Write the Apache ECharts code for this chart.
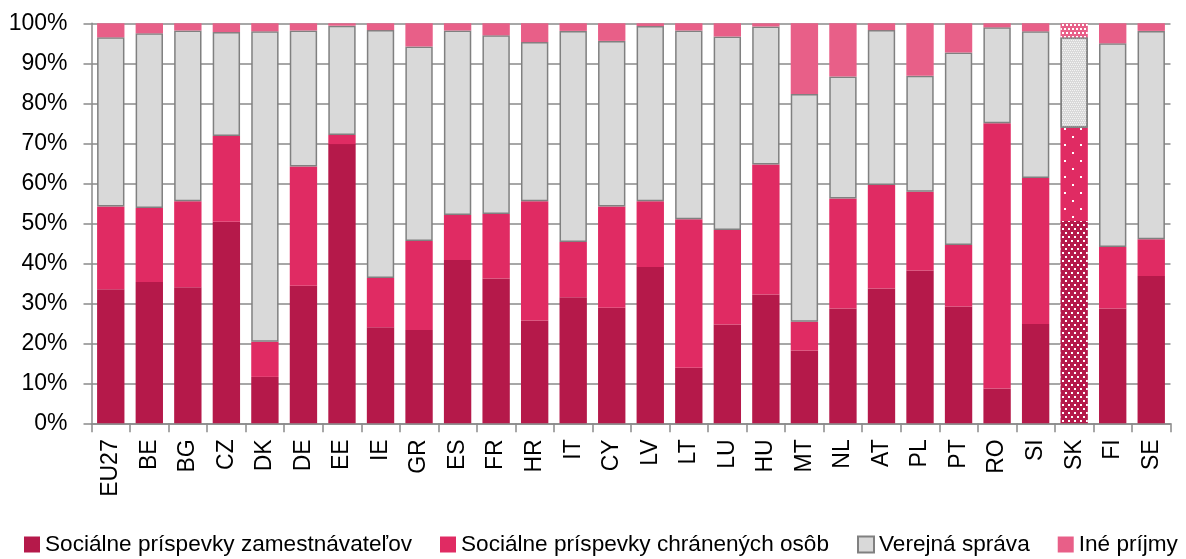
<!DOCTYPE html>
<html>
<head>
<meta charset="utf-8">
<script src="https://cdn.jsdelivr.net/npm/echarts@6/dist/echarts.min.js"></script>
<style>
html,body{margin:0;padding:0;background:#fff;}
#chart{width:1186px;height:559px;}
</style>
</head>
<body>
<div id="chart"></div>
<script>
const categories = ['EU27','BE','BG','CZ','DK','DE','EE','IE','GR','ES','FR','HR','IT','CY','LV','LT','LU','HU','MT','NL','AT','PL','PT','RO','SI','SK','FI','SE'];
const employerContrib = [33.5,35.3,34.0,50.4,11.6,34.4,69.8,24.0,23.3,40.8,36.2,25.7,31.5,28.9,39.1,13.9,24.7,32.2,18.2,28.7,33.7,38.2,29.2,8.7,24.8,50.6,28.7,36.8];
const protectedContrib = [20.7,18.5,21.5,21.4,8.8,29.8,2.3,12.3,22.3,11.3,16.1,29.8,13.8,25.3,16.4,37.1,23.6,32.5,7.2,27.5,25.9,19.7,15.4,66.3,36.5,23.3,15.4,9.2];
const government = [42.3,43.7,42.7,26.0,77.6,34.0,27.3,62.0,48.6,46.1,44.7,39.8,52.8,41.4,43.8,47.2,48.4,34.5,56.9,30.5,38.7,29.0,48.1,24.0,36.7,22.6,50.9,52.1];
const otherIncome = [3.5,2.5,1.8,2.2,2.0,1.8,0.6,1.7,5.8,1.8,3.0,4.7,1.9,4.4,0.7,1.8,3.3,0.8,17.7,13.3,1.7,13.1,7.3,1.0,2.0,3.5,5.0,1.9];
const seriesNames = ['Sociálne príspevky zamestnávateľov','Sociálne príspevky chránených osôb','Verejná správa','Iné príjmy'];
const highlightCat = 'SK';

const FONT = '"Liberation Sans", Arial, sans-serif';
const GRID_GRAY = '#8a8a8a';
const colors = ['#b5194a','#e02b63','#d9d9d9','#e85f88'];
const decals = [
  {symbol:'rect', symbolSize:1, color:'#ffffff', dashArrayX:[[2,4],[0,3,2,1]], dashArrayY:[2,2]},
  {symbol:'rect', symbolSize:1, color:'#ffffff', dashArrayX:[[2,14],[0,8,2,6]], dashArrayY:[2,6]},
  {symbol:'rect', symbolSize:1, color:'rgba(255,255,255,0.7)', dashArrayX:[[1,1],[0,1,1,0]], dashArrayY:[1,1]},
  {symbol:'rect', symbolSize:1, color:'#ffffff', dashArrayX:[[2,2],[0,2,2,0]], dashArrayY:[2,2]}
];

function buildData(values, si){
  return values.map((v,i)=>{
    if (categories[i] === highlightCat) {
      return {value:v, itemStyle:{decal: decals[si]}};
    }
    return v;
  });
}

const seriesValues = [employerContrib, protectedContrib, government, otherIncome];
const series = seriesValues.map((vals, si)=>({
  name: seriesNames[si],
  type:'bar',
  stack:'total',
  barCategoryGap:'29%',
  data: buildData(vals, si),
  itemStyle: si===2 ? {color:colors[si], borderColor:'#808080', borderWidth:1.5} : {color:colors[si]},
  emphasis:{disabled:true},
  animation:false
}));

const chart = echarts.init(document.getElementById('chart'), null, {renderer:'canvas'});
chart.setOption({
  animation:false,
  textStyle:{fontFamily:FONT},
  grid:{left:91.5, right:15.5, top:23.3, bottom:135.7, containLabel:false},
  legend:{
    left:24, top:533, width:1162, padding:0,
    itemWidth:16, itemHeight:16, itemGap:28,
    icon:'rect',
    textStyle:{fontSize:22.6, color:'#000', fontFamily:FONT},
    data: seriesNames
  },
  xAxis:{
    type:'category',
    data:categories,
    axisLine:{show:true, lineStyle:{color:GRID_GRAY, width:1.5}},
    axisTick:{show:true, alignWithLabel:false, length:9, lineStyle:{color:GRID_GRAY, width:1.5}},
    axisLabel:{rotate:90, margin:16, fontSize:23, color:'#000', fontFamily:FONT, interval:0}
  },
  yAxis:{
    type:'value', min:0, max:100, interval:10,
    axisLine:{show:true, lineStyle:{color:GRID_GRAY, width:1.5}},
    axisTick:{show:true, length:8, lineStyle:{color:GRID_GRAY, width:1.5}},
    splitLine:{show:true, lineStyle:{color:GRID_GRAY, width:1.5}},
    axisLabel:{formatter:'{value}%', fontSize:23, color:'#000', margin:24, fontFamily:FONT}
  },
  series: series
});
</script>
</body>
</html>
